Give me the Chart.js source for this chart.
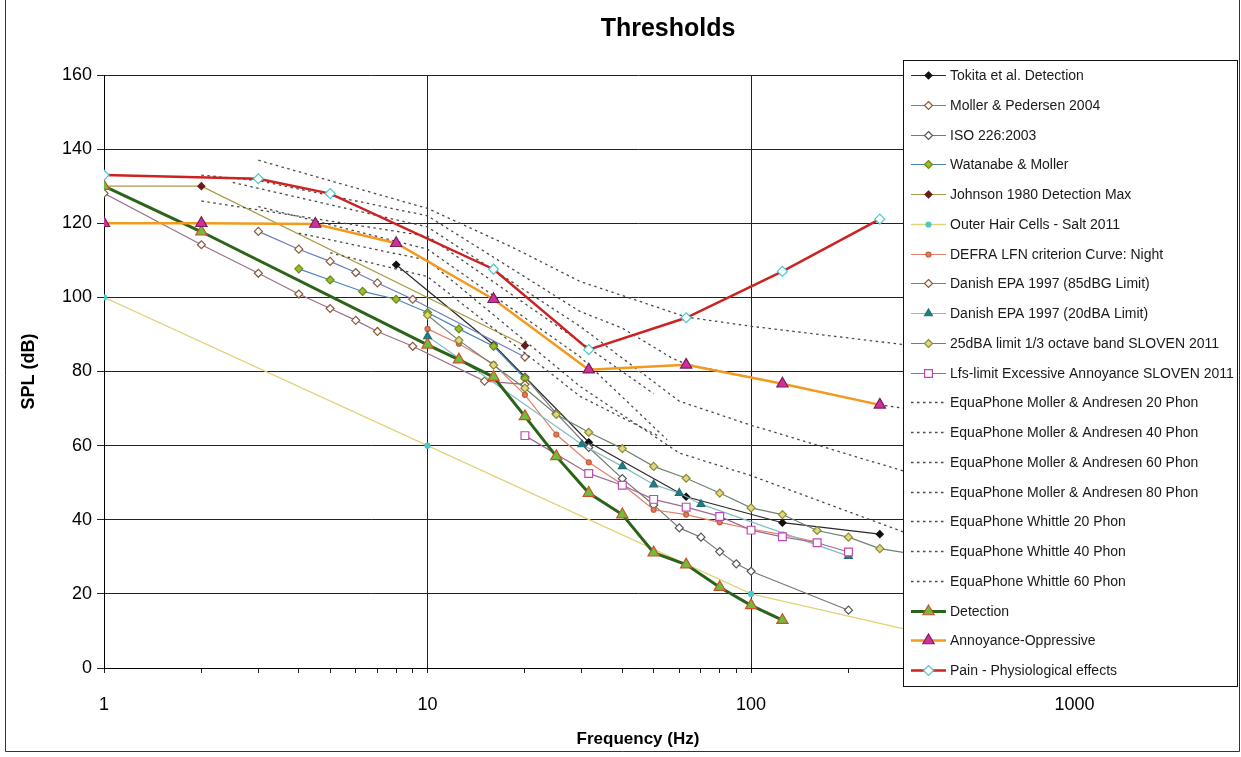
<!DOCTYPE html>
<html><head><meta charset="utf-8">
<script src="https://cdn.jsdelivr.net/npm/chart.js@4.4.1/dist/chart.umd.min.js"></script>
<style>html,body{margin:0;padding:0;background:#fff;}canvas{display:block;}</style>
</head><body>
<canvas id="c" width="1241" height="757"></canvas>
<script>
// ---- tick labels / titles ----
const chartTitle = 'Thresholds';
const xMajorTicks = [1, 10, 100, 1000];
const yTickValues = [0, 20, 40, 60, 80, 100, 120, 140, 160];

// ---- series data (frequency Hz / SPL dB) ----
const tokitaFreq = [8, 16, 31.5, 63, 125, 250];
const tokitaSPL  = [108.8, 87.2, 60.9, 46.2, 39.2, 36.1];

const mollerPedersenFreq = [3, 4, 5, 6, 7, 9, 20];
const mollerPedersenSPL  = [117.8, 113, 109.7, 106.7, 103.9, 99.5, 83.9];

const isoFreq = [20, 25, 31.5, 40, 50, 60, 70, 80, 90, 100, 200];
const isoSPL  = [78.5, 68.7, 59.5, 51.1, 44, 37.8, 35.3, 31.4, 28.1, 26.1, 15.6];

const watanabeFreq = [4, 5, 6.3, 8, 10, 12.5, 16, 20];
const watanabeSPL  = [107.7, 104.7, 101.6, 99.5, 95.9, 91.5, 86.8, 78.1];

const johnsonFreq = [1, 2, 20];
const johnsonSPL  = [130, 130, 87];

const hairCellsFreq = [1, 10, 100, 1000];
const hairCellsSPL  = [100, 60, 20, 0];

const defraFreq = [10, 12.5, 16, 20, 25, 31.5, 40, 50, 63, 80, 100, 125, 160];
const defraSPL  = [91.5, 87.5, 82, 73.7, 63, 55.5, 49.5, 42.7, 41.4, 39.3, 37.5, 36, 34];

const danish85Freq = [1, 2, 3, 4, 5, 6, 7, 9, 15, 20];
const danish85SPL  = [128.1, 114.2, 106.5, 100.9, 97, 93.8, 90.8, 86.8, 77.4, 76.5];

const danish20Freq = [10, 30, 40, 50, 60, 70, 200];
const danish20SPL  = [89.5, 60.3, 54.4, 49.5, 47.2, 44.2, 30.2];

const sloven25Freq = [10, 12.5, 16, 20, 25, 31.5, 40, 50, 63, 80, 100, 125, 160, 200, 250, 315, 400];
const sloven25SPL  = [95.2, 88.4, 81.7, 75.5, 68.4, 63.6, 59.2, 54.4, 51.2, 47.2, 43.2, 41.4, 37.1, 35.3, 32.2, 30.8, 29.8];

const lfsFreq = [20, 31.5, 40, 50, 63, 80, 100, 125, 160, 200];
const lfsSPL  = [62.7, 52.5, 49.3, 45.5, 43.4, 40.9, 37.2, 35.4, 33.8, 31.3];

const ma20Freq = [4, 10, 29.6, 60, 100, 300, 400];
const ma20SPL  = [117.3, 110, 76, 58, 51.9, 36.5, 32.5];
const ma40Freq = [2.5, 10, 29.6, 60, 100, 300, 400];
const ma40SPL  = [131, 119, 92.2, 72, 65.5, 53, 50.5];
const ma60Freq = [2, 3, 10, 29.6, 40, 57, 63, 125, 250, 400];
const ma60SPL  = [133, 131.5, 122, 96.2, 91.7, 83.6, 82, 76.7, 71, 68.5];
const ma80Freq = [3, 10, 18.5, 29.6, 40, 63, 100, 300, 400];
const ma80SPL  = [137, 124, 113.3, 104.3, 100.5, 94.7, 92.2, 87.2, 86];

const whittle20Freq = [5, 10, 29.6, 52];
const whittle20SPL  = [112, 105.6, 73.3, 62.5];
const whittle40Freq = [3, 10, 29.6, 55];
const whittle40SPL  = [124.5, 113, 84, 61.6];
const whittle60Freq = [2, 10, 29.6, 50];
const whittle60SPL  = [126, 116.5, 88, 74];

const detectionFreq = [1, 2, 10, 12.5, 16, 20, 25, 31.5, 40, 50, 63, 80, 100, 125];
const detectionSPL  = [130, 117.7, 87.2, 83.2, 78.5, 67.9, 57.1, 47.2, 41.4, 31.1, 27.9, 21.8, 16.9, 12.9];

const annoyanceFreq = [1, 2, 4.5, 8, 16, 31.5, 63, 125, 250];
const annoyanceSPL  = [120, 120, 119.8, 114.6, 99.5, 80.5, 81.8, 76.7, 71];

const painFreq = [1, 3, 5, 16, 31.5, 63, 125, 250];
const painSPL  = [133, 132, 128, 107.6, 85.9, 94.5, 107, 121.1];

// ---- build datasets ----
function pts(fs, vs) { return fs.map((f, i) => ({ x: f, y: vs[i] })); }
const DOT = [2.5, 3.5];
const dotted = (label, f, v) => ({ label, data: pts(f, v), borderColor: '#4a4a4a', borderWidth: 1.3, borderDash: DOT, pointRadius: 0 });

const seriesList = [
  { label: 'Tokita et al. Detection', data: pts(tokitaFreq, tokitaSPL), borderColor: '#2a2a2a', borderWidth: 1.2, pointStyle: 'rectRot', pointRadius: 3.5, pointBackgroundColor: '#111', pointBorderColor: '#111' },
  { label: 'Moller & Pedersen 2004', data: pts(mollerPedersenFreq, mollerPedersenSPL), borderColor: '#6a7bbf', borderWidth: 1.2, pointStyle: 'rectRot', pointRadius: 4, pointBackgroundColor: '#fff', pointBorderColor: '#8a5a3a' },
  { label: 'ISO 226:2003', data: pts(isoFreq, isoSPL), borderColor: '#777', borderWidth: 1.2, pointStyle: 'rectRot', pointRadius: 4, pointBackgroundColor: '#fff', pointBorderColor: '#555' },
  { label: 'Watanabe & Moller', data: pts(watanabeFreq, watanabeSPL), borderColor: '#4a86b8', borderWidth: 1.2, pointStyle: 'rectRot', pointRadius: 4, pointBackgroundColor: '#9cbc2c', pointBorderColor: '#6a8a1a' },
  { label: 'Johnson 1980 Detection Max', data: pts(johnsonFreq, johnsonSPL), borderColor: '#a89a48', borderWidth: 1.2, pointStyle: 'rectRot', pointRadius: 3.5, pointBackgroundColor: '#6a1a1a', pointBorderColor: '#6a1a1a' },
  { label: 'Outer Hair Cells - Salt 2011', data: pts(hairCellsFreq, hairCellsSPL), borderColor: '#e3d27a', borderWidth: 1.3, pointStyle: 'circle', pointRadius: 2.5, pointBackgroundColor: '#4cc8c8', pointBorderColor: '#4cc8c8' },
  { label: 'DEFRA LFN criterion Curve: Night', data: pts(defraFreq, defraSPL), borderColor: '#e0806a', borderWidth: 1.2, pointStyle: 'circle', pointRadius: 2.5, pointBackgroundColor: '#e07a5a', pointBorderColor: '#c0603a' },
  { label: 'Danish EPA 1997 (85dBG Limit)', data: pts(danish85Freq, danish85SPL), borderColor: '#9a7088', borderWidth: 1.2, pointStyle: 'rectRot', pointRadius: 4, pointBackgroundColor: '#fff', pointBorderColor: '#8a5a3a' },
  { label: 'Danish EPA 1997 (20dBA Limit)', data: pts(danish20Freq, danish20SPL), borderColor: '#86bcc0', borderWidth: 1.2, pointStyle: 'triangle', pointRadius: 4.5, pointBackgroundColor: '#1f7f86', pointBorderColor: '#1f6f76' },
  { label: '25dBA limit 1/3 octave band SLOVEN 2011', data: pts(sloven25Freq, sloven25SPL), borderColor: '#6f8270', borderWidth: 1.2, pointStyle: 'rectRot', pointRadius: 4, pointBackgroundColor: '#e0d880', pointBorderColor: '#8a8a3a' },
  { label: 'Lfs-limit Excessive Annoyance SLOVEN 2011', data: pts(lfsFreq, lfsSPL), borderColor: '#a06a90', borderWidth: 1.2, pointStyle: 'rect', pointRadius: 5.5, pointBackgroundColor: '#fff', pointBorderColor: '#c048b0' },
  dotted('EquaPhone Moller & Andresen 20 Phon', ma20Freq, ma20SPL),
  dotted('EquaPhone Moller & Andresen 40 Phon', ma40Freq, ma40SPL),
  dotted('EquaPhone Moller & Andresen 60 Phon', ma60Freq, ma60SPL),
  dotted('EquaPhone Moller & Andresen 80 Phon', ma80Freq, ma80SPL),
  dotted('EquaPhone Whittle 20 Phon', whittle20Freq, whittle20SPL),
  dotted('EquaPhone Whittle 40 Phon', whittle40Freq, whittle40SPL),
  dotted('EquaPhone Whittle 60 Phon', whittle60Freq, whittle60SPL),
  { label: 'Detection', data: pts(detectionFreq, detectionSPL), borderColor: '#2a6418', borderWidth: 3, pointStyle: 'triangle', pointRadius: 6.5, pointBackgroundColor: '#6cbf3a', pointBorderColor: '#d0502a' },
  { label: 'Annoyance-Oppressive', data: pts(annoyanceFreq, annoyanceSPL), borderColor: '#f39a1e', borderWidth: 2.5, pointStyle: 'triangle', pointRadius: 6.5, pointBackgroundColor: '#d22f9e', pointBorderColor: '#7a1f5a' },
  { label: 'Pain - Physiological effects', data: pts(painFreq, painSPL), borderColor: '#cc2222', borderWidth: 2.5, pointStyle: 'rectRot', pointRadius: 5, pointBackgroundColor: '#fff', pointBorderColor: '#4cc8d0' }
];
const N = seriesList.length;
const datasets = seriesList.map((s, i) => Object.assign({
  showLine: true, fill: false, tension: 0, pointBorderWidth: 1.2, pointHoverRadius: 0, order: N - i
}, s));

// ---- helpers ----
const FONT = '"Liberation Sans", Arial, sans-serif';
Chart.defaults.font.family = FONT;
Chart.defaults.color = '#000';
const isMajorX = v => xMajorTicks.includes(v);
const xTickValues = [];
for (let d = 1; d <= 1000; d *= 10) for (let k = 1; k <= 9; k++) if (d * k <= 2000) xTickValues.push(d * k);
xTickValues.push(2000);

function drawMarker(ctx, style, x, y, r, fill, stroke, lw) {
  ctx.save();
  ctx.beginPath();
  if (style === 'rectRot') {
    ctx.moveTo(x, y - r); ctx.lineTo(x + r, y); ctx.lineTo(x, y + r); ctx.lineTo(x - r, y); ctx.closePath();
  } else if (style === 'triangle') {
    const w = r * Math.sqrt(3) / 2;
    ctx.moveTo(x, y - r); ctx.lineTo(x + w, y + r / 2); ctx.lineTo(x - w, y + r / 2); ctx.closePath();
  } else if (style === 'rect') {
    const s = r * Math.SQRT1_2; ctx.rect(x - s, y - s, 2 * s, 2 * s);
  } else {
    ctx.arc(x, y, r, 0, Math.PI * 2);
  }
  ctx.fillStyle = fill; ctx.fill();
  ctx.lineWidth = lw || 1; ctx.strokeStyle = stroke; ctx.stroke();
  ctx.restore();
}

const frameTitleLegend = {
  id: 'frameTitleLegend',
  beforeDraw(chart) {
    const ctx = chart.ctx; ctx.save(); ctx.fillStyle = '#fff'; ctx.fillRect(0, 0, chart.width, chart.height); ctx.restore();
  },
  afterDraw(chart) {
    const ctx = chart.ctx;
    ctx.save();
    // chart title
    ctx.fillStyle = '#000'; ctx.font = 'bold 25px ' + FONT; ctx.textAlign = 'center'; ctx.textBaseline = 'middle';
    ctx.fillText(chartTitle, 668, 29);
    // outer chart frame (left, bottom, right)
    ctx.strokeStyle = '#333'; ctx.lineWidth = 1;
    ctx.beginPath(); ctx.moveTo(5.5, 0); ctx.lineTo(5.5, 751.5); ctx.lineTo(1239.5, 751.5); ctx.lineTo(1239.5, 0); ctx.stroke();
    // floating legend
    const L = 903, T = 60, R = 1237, B = 686;
    ctx.fillStyle = '#fff'; ctx.fillRect(L, T, R - L, B - T);
    ctx.strokeStyle = '#111'; ctx.strokeRect(L + 0.5, T + 0.5, R - L, B - T);
    const step = 29.75;
    chart.data.datasets.forEach((ds, i) => {
      const y = Math.round(T + 15 + i * step) + 0.5;
      ctx.save();
      ctx.strokeStyle = ds.borderColor; ctx.lineWidth = Math.min(ds.borderWidth, 3);
      ctx.setLineDash(ds.borderDash || []);
      ctx.beginPath(); ctx.moveTo(911, y); ctx.lineTo(946, y); ctx.stroke();
      ctx.restore();
      if (ds.pointRadius > 0) drawMarker(ctx, ds.pointStyle, 928.5, y, ds.pointRadius, ds.pointBackgroundColor, ds.pointBorderColor, ds.pointBorderWidth);
      ctx.fillStyle = '#1a1a1a'; ctx.font = '14px ' + FONT; ctx.textBaseline = 'middle'; ctx.textAlign = 'left';
      ctx.fillText(ds.label, 950, y + 0.5);
    });
    ctx.restore();
  }
};

new Chart(document.getElementById('c'), {
  type: 'line',
  data: { datasets },
  plugins: [frameTitleLegend],
  options: {
    responsive: false, animation: false, devicePixelRatio: 1,
    layout: { padding: { left: 0, right: 69, top: 75, bottom: 0 } },
    plugins: { legend: { display: false }, tooltip: { enabled: false }, title: { display: false } },
    scales: {
      x: {
        type: 'logarithmic', min: 1, max: 2000,
        afterBuildTicks: s => { s.ticks = xTickValues.map(v => ({ value: v, major: isMajorX(v) })); },
        afterFit: s => { s.height = 89; },
        border: { color: '#000', width: 1 },
        grid: { color: c => (c.tick && isMajorX(c.tick.value)) ? '#222' : 'rgba(0,0,0,0)', tickColor: '#222', tickLength: 5, lineWidth: 1 },
        ticks: { autoSkip: false, maxRotation: 0, padding: 21, color: '#000', font: { size: 18 }, callback: v => isMajorX(v) ? String(v) : '' },
        title: { display: true, text: 'Frequency (Hz)', color: '#000', font: { size: 17, weight: 'bold' }, padding: { top: 0, bottom: 7 } }
      },
      y: {
        min: 0, max: 160,
        afterBuildTicks: s => { s.ticks = yTickValues.map(v => ({ value: v })); },
        afterFit: s => { s.width = 104; },
        border: { color: '#000', width: 1 },
        grid: { color: '#222', tickLength: 7, lineWidth: 1 },
        ticks: { padding: 5, color: '#000', font: { size: 18 } },
        title: { display: true, text: 'SPL (dB)', color: '#000', font: { size: 18, weight: 'bold' }, padding: { top: 18, bottom: 0 } }
      }
    }
  }
});
</script>
</body></html>
